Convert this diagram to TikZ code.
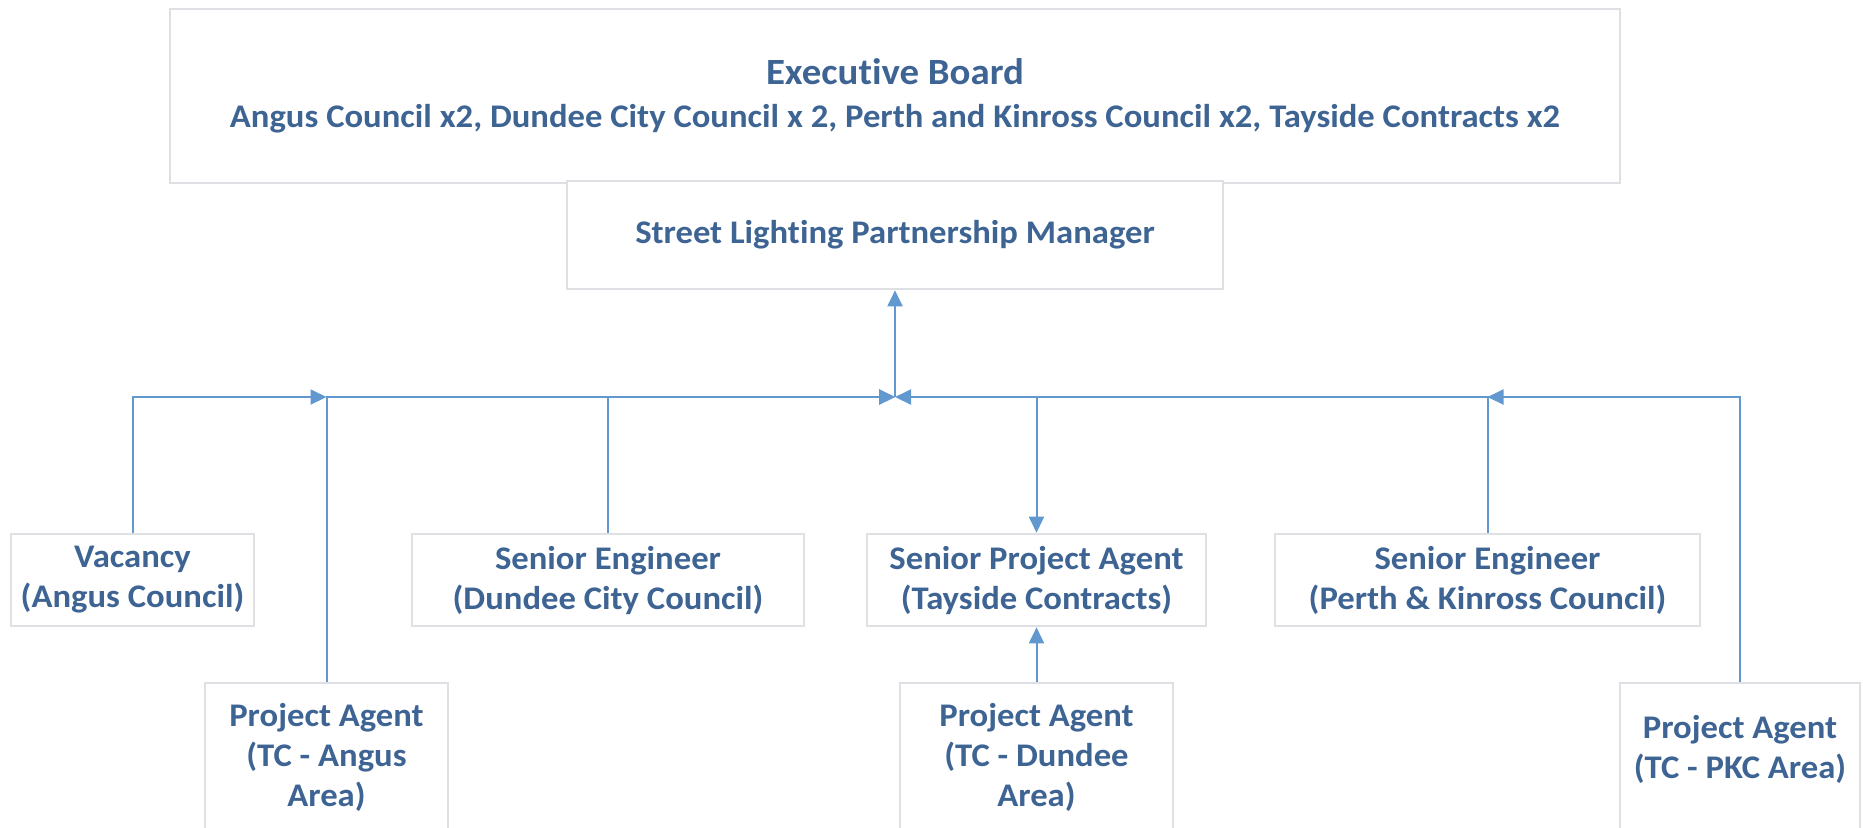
\documentclass[tikz,border=0pt]{standalone}
\usepackage{fontspec}
\setmainfont{Carlito}[FakeStretch=1.05,Ligatures=NoCommon]
\usetikzlibrary{arrows.meta,positioning,calc}
\definecolor{slText}{RGB}{62,100,148}
\definecolor{slLine}{RGB}{98,152,208}
\definecolor{slBorder}{RGB}{222,224,228}
\tikzstyle{chart}=[
  x=0.5pt,y=-0.5pt,>={Triangle[length=8pt,width=7.5pt]},
  font=\bfseries\fontsize{16.5}{20}\selectfont,text=slText
]
\tikzstyle{post}=[
  draw=slBorder,line width=1.3pt,rectangle,align=center,inner sep=0pt,fill=white
]
\tikzstyle{rowpost}=[
  post,minimum height=46pt
]
\tikzstyle{agentpost}=[
  post,minimum height=74pt
]
\tikzstyle{link}=[
  draw=slLine,line width=1pt
]

\begin{document}
\begin{tikzpicture}[chart]
    \clip (0,0) rectangle (1863,827);
    \fill[white] (0,0) rectangle (1863,827);
    % top of the chart
    \node (board) at (895,96) [post,minimum width=725pt,minimum height=87pt]
      {{\fontsize{18.5}{21.5}\selectfont Executive Board}\\[1.5pt]
       Angus Council x2, Dundee City Council x 2, Perth and Kinross Council x2, Tayside Contracts x2};
    \node (mgr) at (895,235) [post,minimum width=328pt,minimum height=54pt]
      {Street Lighting Partnership Manager};
    \coordinate (hub) at (895,397);
    % middle row
    \node (vac) at (132.5,580) [rowpost,minimum width=121.5pt] {Vacancy\\(Angus Council)};
    \node (dcc) at (608,580) [rowpost,minimum width=196pt] {Senior Engineer\\(Dundee City Council)};
    \node (spa) at (1036.5,580) [rowpost,minimum width=169.5pt] {Senior Project Agent\\(Tayside Contracts)};
    \node (pkc) at (1487.5,580) [rowpost,minimum width=212.5pt] {Senior Engineer\\(Perth \& Kinross Council)};
    % bottom row
    \node (paAngus) at (326.5,757) [agentpost,minimum width=121.5pt] {Project Agent\\(TC - Angus\\Area)};
    \node (paDundee) at (1036.5,757) [agentpost,minimum width=136.5pt] {Project Agent\\(TC - Dundee\\Area)};
    \node (paPKC) at (1740,767) [post,minimum width=120pt,minimum height=84pt] {Project Agent\\(TC - PKC Area)\\\mbox{}};
    % connectors
    \draw [link,->] (vac.north) |- (paAngus.north |- hub);
    \draw [link,->] (paAngus.north) |- (hub);
    \draw [link,->] (dcc.north) |- (hub);
    \draw [link,->] (pkc.north) |- (hub);
    \draw [link,->] (paPKC.north) |- (pkc.north |- hub);
    \draw [link,->] (spa.north |- hub) -- (spa.north);
    \draw [link,->] (paDundee.north) -- (spa.south);
    \draw [link,->] (hub) -- (mgr.south);
\end{tikzpicture}
\end{document}
